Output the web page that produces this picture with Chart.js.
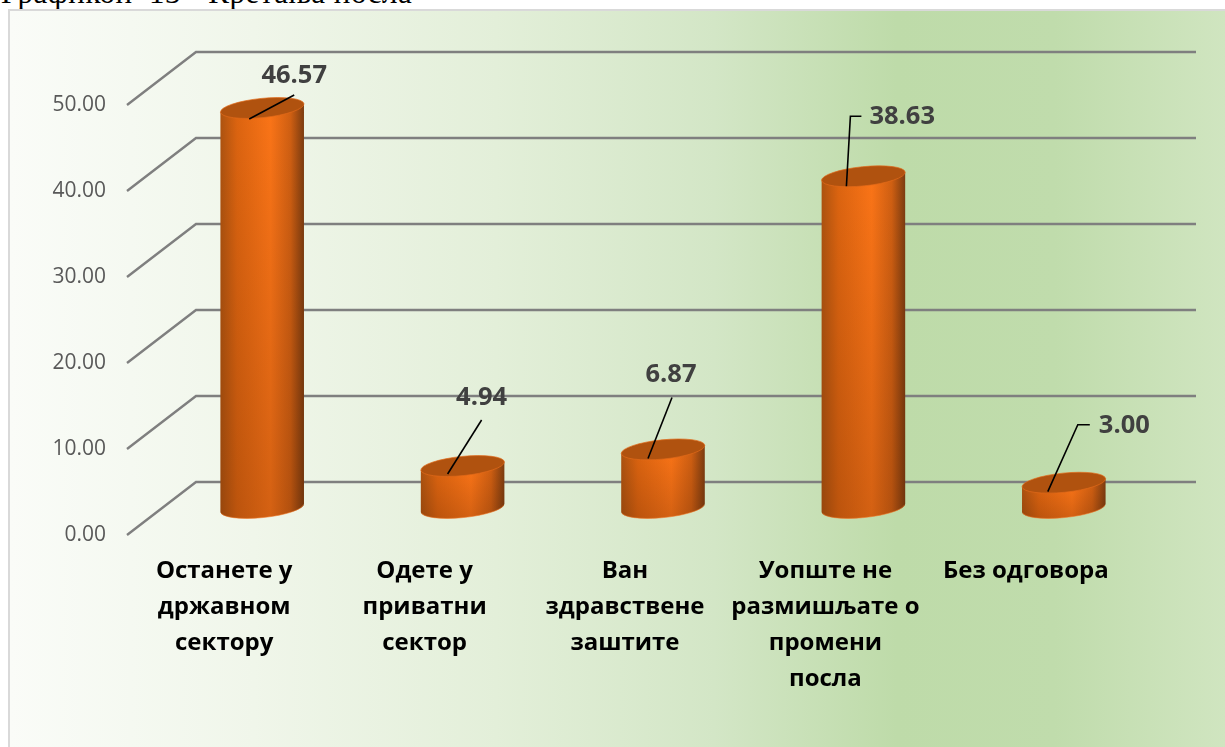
<!DOCTYPE html>
<html><head><meta charset="utf-8">
<style>
html,body{margin:0;padding:0;background:#fff;width:1225px;height:747px;overflow:hidden}
#cap{position:absolute;left:1px;top:-25px;font:31px "Liberation Serif",serif;color:#000;white-space:pre;letter-spacing:.5px}
#panel{position:absolute;left:8px;top:9px;width:1217px;height:738px;box-sizing:border-box;border-left:2px solid #d9d9d9;border-top:2px solid #d9d9d9;
background:linear-gradient(90deg,#fafcf8 0%,#f0f6ea 20%,#e3efd9 40%,#d3e6c6 58%,#bedba9 73%,#c0dcac 86%,#d0e5c0 100%)}
#wrap{position:absolute;left:0;top:0;width:1225px;height:747px}
</style>
<script src="https://cdn.jsdelivr.net/npm/chart.js@4"></script>
</head><body>
<div id="cap">Графикон  13 - Кретања посла</div>
<div id="panel"></div>
<div id="wrap"><canvas id="c" width="1225" height="747"></canvas></div>
<script>
const categories = [
  ["Останете у","државном","сектору"],
  ["Одете у","приватни","сектор"],
  ["Ван","здравствене","заштите"],
  ["Уопште не","размишљате о","промени","посла"],
  ["Без одговора"]
];
const values = [46.57, 4.94, 6.87, 38.63, 3.00];
const axisMin = 0, axisMax = 50, axisStep = 10;

// Label placement relative to each cylinder's top: leader points and text anchor
const leaderPaths = [
  [[-13,11],[32,-13]],
  [[-15,8],[19,-46]],
  [[-15,9],[9,-52]],
  [[-17,10],[-13,-60],[-2,-60]],
  [[-16,9],[14,-58],[26,-58]]
];
const labelAnchors = [
  [32,-32,"center"],
  [19,-68,"center"],
  [8,-75,"center"],
  [6,-60,"left"],
  [35,-57,"left"]
];
const DEPTH_X = 34.5, DEPTH_Y = 26.5, FRONT_X = 35, GRID_RIGHT = 1196;
const FONT = "'Open Sans', sans-serif";

const scene = {
  id:"scene",
  beforeDatasetsDraw(chart){
    const {ctx,scales:{y},chartArea:a}=chart;
    ctx.save();
    ctx.strokeStyle="#7f7f7f";ctx.lineWidth=2.4;ctx.lineJoin="miter";
    y.ticks.forEach(t=>{
      const py=y.getPixelForValue(t.value);
      ctx.beginPath();
      ctx.moveTo(a.left-FRONT_X,py);
      ctx.lineTo(a.left-FRONT_X+69,py-2*DEPTH_Y);
      ctx.lineTo(GRID_RIGHT,py-2*DEPTH_Y);
      ctx.stroke();
    });
    ctx.restore();
  },
  beforeDatasetDraw(chart,args){
    const {ctx}=chart, meta=args.meta;
    meta.data.forEach(el=>drawCylinder(ctx,el));
    return false;
  },
  afterDatasetsDraw(chart){
    const {ctx}=chart, meta=chart.getDatasetMeta(0);
    ctx.save();
    meta.data.forEach((el,i)=>{
      const cx=el.x, cy=el.y-DEPTH_Y;
      ctx.strokeStyle="#000";ctx.lineWidth=1.6;ctx.beginPath();
      leaderPaths[i].forEach((p,k)=>k?ctx.lineTo(cx+p[0],cy+p[1]):ctx.moveTo(cx+p[0],cy+p[1]));
      ctx.stroke();
      const [dx,dy,al]=labelAnchors[i];
      ctx.font="700 25.5px "+FONT;ctx.fillStyle="#404040";
      ctx.textAlign=al;ctx.textBaseline="middle";
      ctx.fillText(values[i].toFixed(2),cx+dx,cy+dy);
    });
    ctx.restore();
  }
};

function drawCylinder(ctx,el){
  const w=el.width, cx=el.x, rx=w/2, ry=9.6, rot=-0.1;
  const top=el.y-DEPTH_Y, bot=el.base-DEPTH_Y-0.5;
  const ex=rx*Math.cos(rot), ey=rx*Math.sin(rot);
  ctx.save();
  ctx.beginPath();
  ctx.moveTo(cx-ex,top-ey);
  ctx.lineTo(cx+ex,top+ey);
  ctx.lineTo(cx+ex,bot+ey);
  ctx.ellipse(cx,bot,rx,ry,rot,0,Math.PI,false);
  ctx.closePath();
  const g=ctx.createLinearGradient(cx-ex,0,cx+ex,0);
  g.addColorStop(0,"#ad5310");
  g.addColorStop(0.2,"#dc6410");
  g.addColorStop(0.6,"#fa7417");
  g.addColorStop(0.84,"#cf5f12");
  g.addColorStop(1,"#7c3c10");
  ctx.fillStyle=g;ctx.fill();
  const v=ctx.createLinearGradient(0,top,0,bot+ry);
  v.addColorStop(0,"rgba(60,20,0,0)");
  v.addColorStop(1,"rgba(60,20,0,0.2)");
  ctx.fillStyle=v;ctx.fill();
  ctx.beginPath();
  ctx.ellipse(cx,bot,rx-0.5,ry,rot,0.1,Math.PI-0.1,false);
  ctx.strokeStyle="rgba(240,120,40,0.55)";ctx.lineWidth=1;ctx.stroke();
  ctx.beginPath();
  ctx.ellipse(cx,top,rx,ry,rot,0,Math.PI*2);
  ctx.fillStyle="#b0520f";ctx.fill();
  ctx.strokeStyle="rgba(225,105,25,0.7)";ctx.lineWidth=1;ctx.stroke();
  ctx.restore();
}

new Chart(document.getElementById("c"),{
  type:"bar",
  data:{labels:categories,datasets:[{data:values,backgroundColor:"#e36c0a",barPercentage:0.419,categoryPercentage:1}]},
  plugins:[scene],
  options:{
    responsive:false,animation:false,
    layout:{padding:{left:0,right:61,top:105,bottom:40}},
    plugins:{legend:{display:false},tooltip:{enabled:false}},
    scales:{
      x:{
        grid:{display:false},border:{display:false},
        ticks:{color:"#000",font:{family:FONT,size:24,weight:"700",lineHeight:1.5},
          maxRotation:0,minRotation:0,autoSkip:false,labelOffset:-38,padding:10}
      },
      y:{
        min:axisMin,max:axisMax,
        grid:{display:false},border:{display:false},
        afterFit(s){s.width=162;},
        ticks:{stepSize:axisStep,color:"#595959",font:{family:FONT,size:21},
          padding:48,callback:v=>Number(v).toFixed(2)}
      }
    }
  }
});
</script>
</body></html>
